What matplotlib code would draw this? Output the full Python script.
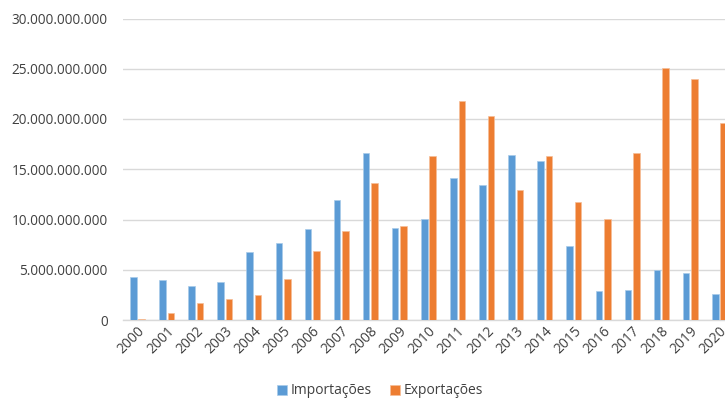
import matplotlib
matplotlib.use("Agg")
import matplotlib.pyplot as plt
import numpy as np
from matplotlib.ticker import FuncFormatter, MultipleLocator

years = [str(y) for y in range(2000, 2021)]
importacoes = [4.28e9, 3.95e9, 3.38e9, 3.78e9, 6.73e9, 7.63e9, 9.05e9, 11.94e9,
               16.58e9, 9.19e9, 10.08e9, 14.13e9, 13.43e9, 16.45e9, 15.85e9,
               7.36e9, 2.89e9, 2.95e9, 5.00e9, 4.64e9, 2.59e9]
exportacoes = [0.10e9, 0.70e9, 1.69e9, 2.09e9, 2.49e9, 4.11e9, 6.87e9, 8.86e9,
               13.66e9, 9.35e9, 16.27e9, 21.79e9, 20.30e9, 12.94e9, 16.35e9,
               11.77e9, 10.05e9, 16.62e9, 25.10e9, 23.98e9, 19.60e9]

plt.rcParams['font.family'] = ['Open Sans', 'DejaVu Sans']
text_color = '#404040'

W, H = 725, 399
fig = plt.figure(figsize=(W / 100, H / 100), dpi=100)
left, right, top, bottom = 123, 734, 18.5, 320
ax = fig.add_axes([left / W, 1 - bottom / H, (right - left) / W, (bottom - top) / H])

x = np.arange(len(years))
bw = 0.225
off = 0.145
ax.bar(x - off, importacoes, bw, color='#5B9BD5', edgecolor='#A9CBEA',
       linewidth=0.5, label='Importações', zorder=3)
ax.bar(x + off, exportacoes, bw, color='#ED7D31', edgecolor='#F6BE98',
       linewidth=0.5, label='Exportações', zorder=3)

ax.set_xlim(-0.5, len(years) - 0.5)
ax.set_ylim(0, 30e9)
ax.yaxis.set_major_locator(MultipleLocator(5e9))
ax.yaxis.set_major_formatter(FuncFormatter(lambda v, p: f"{int(round(v)):,}".replace(",", ".")))
ax.grid(axis='y', color='#D9D9D9', linewidth=1.0, zorder=0)
for s in ['top', 'right', 'left']:
    ax.spines[s].set_visible(False)
ax.spines['bottom'].set_color('#D9D9D9')
ax.spines['bottom'].set_linewidth(1.0)
ax.tick_params(axis='y', length=0, pad=11, labelsize=9.8, labelcolor=text_color)
ax.tick_params(axis='x', length=0, pad=3, labelsize=10, labelcolor=text_color)
ax.set_xticks(x)
ax.set_xticklabels(years, rotation=45, ha='right', rotation_mode='anchor')

handles, labels = ax.get_legend_handles_labels()
fig.legend(handles, labels, loc='center', bbox_to_anchor=(380 / W, 1 - 391 / H),
           ncol=2, frameon=False, fontsize=10, handlelength=0.7, handleheight=0.7,
           handletextpad=0.3, columnspacing=1.3, labelcolor=text_color)

fig.savefig('out.png', dpi=100)
